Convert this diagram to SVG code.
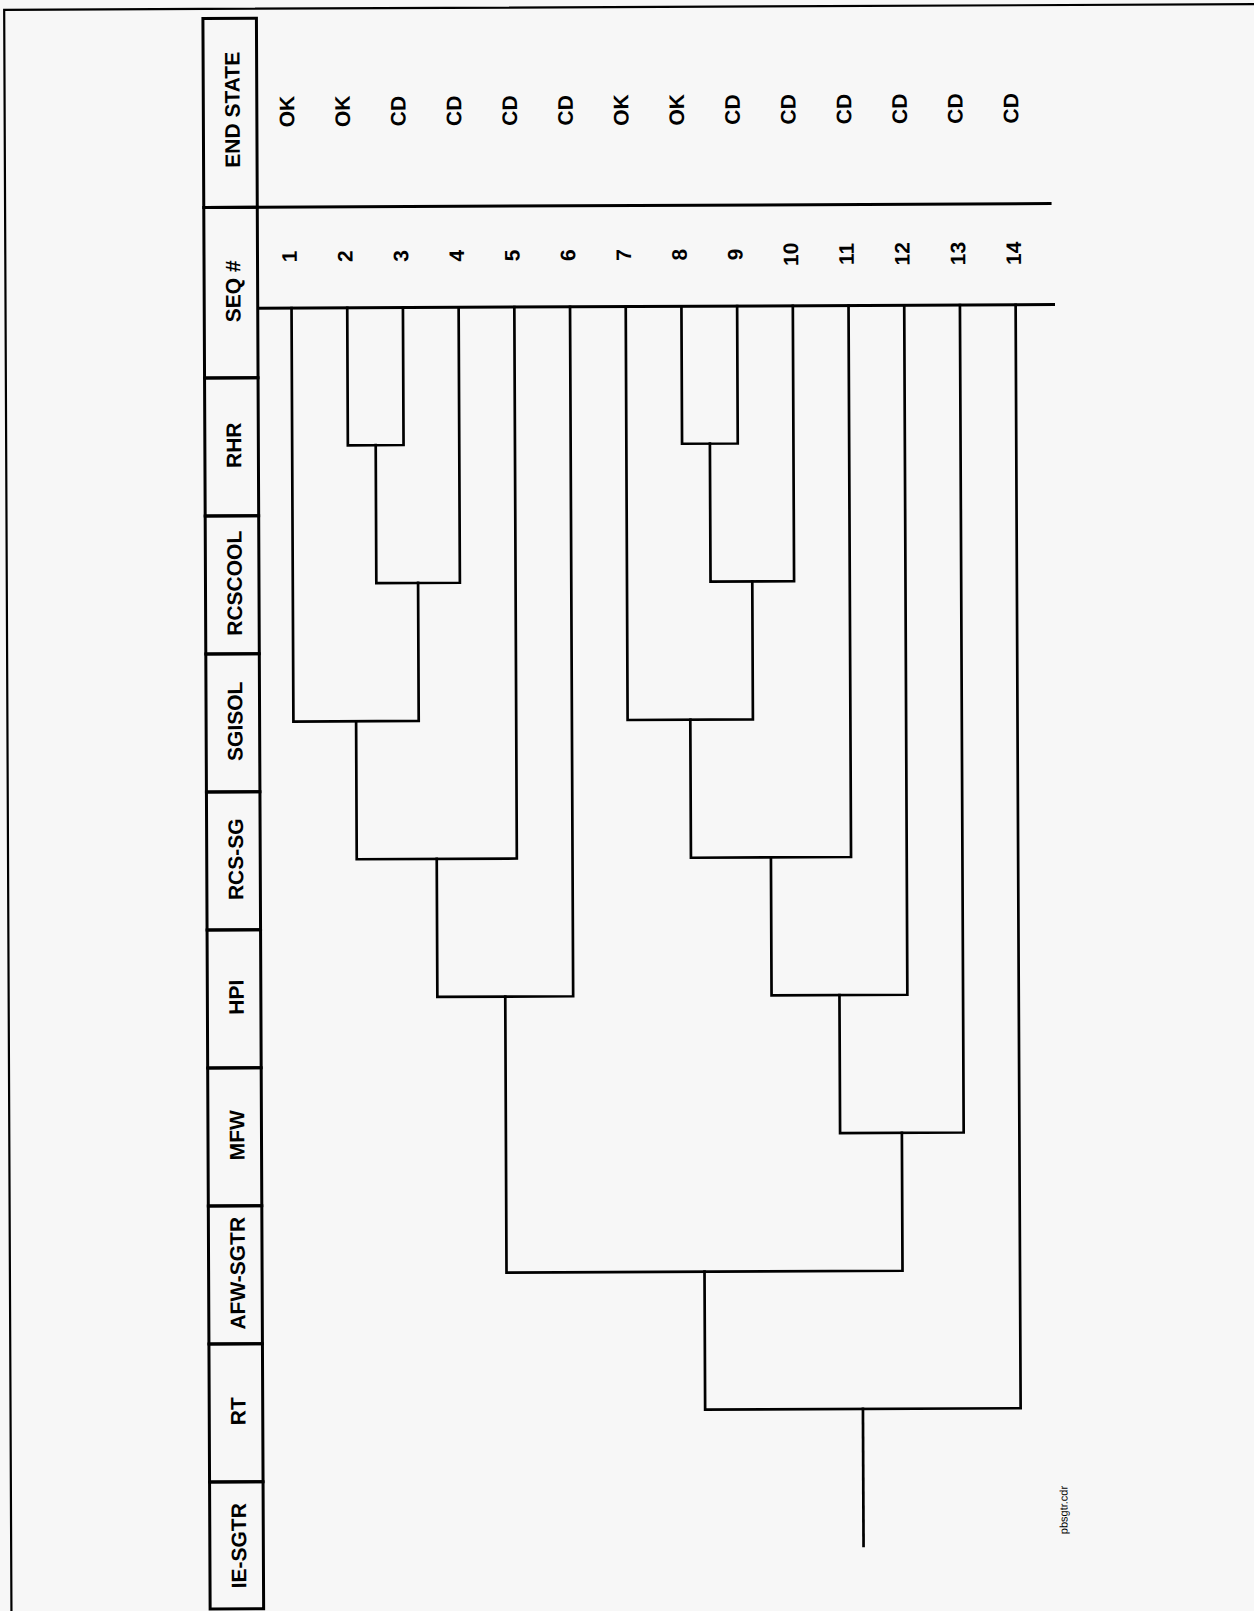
<svg xmlns="http://www.w3.org/2000/svg" width="1254" height="1611" viewBox="0 0 1254 1611">
<style>
.bg{fill:#f7f7f7}
.frame{fill:none;stroke:#000;stroke-width:2.2}
.box{fill:none;stroke:#000;stroke-width:3}
.rule{fill:none;stroke:#000;stroke-width:3}
.br{fill:none;stroke:#000;stroke-width:2.7;stroke-linejoin:miter;stroke-linecap:square}
text{font-family:"Liberation Sans",Arial,Helvetica,sans-serif;font-weight:bold;fill:#000;text-anchor:middle;dominant-baseline:central}
.h{font-size:21px}
.n{font-size:21px}
.s{font-size:21px}
.f{font-size:11px;font-weight:normal}
</style>
<rect class="bg" x="0" y="0" width="1254" height="1611"/>
<g transform="rotate(-0.26 630 300)">
<rect class="frame" x="5.5" y="7" width="1270" height="1630"/>

<g id="header">
<g id="h-endstate"><rect class="box" x="204.2" y="16.5" width="53.5" height="189"/><text class="h" transform="translate(233 108) rotate(-90)">END STATE</text></g>
<g id="h-seq"><rect class="box" x="204.2" y="205.5" width="53.5" height="170.5"/><text class="h" transform="translate(233 289.5) rotate(-90)">SEQ #</text></g>
<g id="h-rhr"><rect class="box" x="204.2" y="376" width="53.5" height="138"/><text class="h" transform="translate(233 443.5) rotate(-90)">RHR</text></g>
<g id="h-rcscool"><rect class="box" x="204.2" y="514" width="53.5" height="138"/><text class="h" transform="translate(233 581.5) rotate(-90)">RCSCOOL</text></g>
<g id="h-sgisol"><rect class="box" x="204.2" y="652" width="53.5" height="138"/><text class="h" transform="translate(233 719.5) rotate(-90)">SGISOL</text></g>
<g id="h-rcssg"><rect class="box" x="204.2" y="790" width="53.5" height="138"/><text class="h" transform="translate(233 857.5) rotate(-90)">RCS-SG</text></g>
<g id="h-hpi"><rect class="box" x="204.2" y="928" width="53.5" height="138"/><text class="h" transform="translate(233 995.5) rotate(-90)">HPI</text></g>
<g id="h-mfw"><rect class="box" x="204.2" y="1066" width="53.5" height="138"/><text class="h" transform="translate(233 1133.5) rotate(-90)">MFW</text></g>
<g id="h-afwsgtr"><rect class="box" x="204.2" y="1204" width="53.5" height="138"/><text class="h" transform="translate(233 1271.5) rotate(-90)">AFW-SGTR</text></g>
<g id="h-rt"><rect class="box" x="204.2" y="1342" width="53.5" height="138"/><text class="h" transform="translate(233 1409.5) rotate(-90)">RT</text></g>
<g id="h-iesgtr"><rect class="box" x="204.2" y="1480" width="53.5" height="127"/><text class="h" transform="translate(233 1544) rotate(-90)">IE-SGTR</text></g>
</g>

<g id="table-rules">
<path class="rule" d="M257.7,205.5 H1052"/>
<path class="rule" d="M257.7,306.5 H1055"/>
</g>

<g id="sequences">
<g id="seq1"><text class="n" transform="translate(289.5 255) rotate(-90)">1</text><text class="s" transform="translate(287.5 110) rotate(-90)">OK</text></g>
<g id="seq2"><text class="n" transform="translate(345.2 255) rotate(-90)">2</text><text class="s" transform="translate(343.2 110) rotate(-90)">OK</text></g>
<g id="seq3"><text class="n" transform="translate(400.9 255) rotate(-90)">3</text><text class="s" transform="translate(398.9 110) rotate(-90)">CD</text></g>
<g id="seq4"><text class="n" transform="translate(456.6 255) rotate(-90)">4</text><text class="s" transform="translate(454.6 110) rotate(-90)">CD</text></g>
<g id="seq5"><text class="n" transform="translate(512.3 255) rotate(-90)">5</text><text class="s" transform="translate(510.3 110) rotate(-90)">CD</text></g>
<g id="seq6"><text class="n" transform="translate(568 255) rotate(-90)">6</text><text class="s" transform="translate(566 110) rotate(-90)">CD</text></g>
<g id="seq7"><text class="n" transform="translate(623.7 255) rotate(-90)">7</text><text class="s" transform="translate(621.7 110) rotate(-90)">OK</text></g>
<g id="seq8"><text class="n" transform="translate(679.4 255) rotate(-90)">8</text><text class="s" transform="translate(677.4 110) rotate(-90)">OK</text></g>
<g id="seq9"><text class="n" transform="translate(735.1 255) rotate(-90)">9</text><text class="s" transform="translate(733.1 110) rotate(-90)">CD</text></g>
<g id="seq10"><text class="n" transform="translate(790.8 255) rotate(-90)">10</text><text class="s" transform="translate(788.8 110) rotate(-90)">CD</text></g>
<g id="seq11"><text class="n" transform="translate(846.5 255) rotate(-90)">11</text><text class="s" transform="translate(844.5 110) rotate(-90)">CD</text></g>
<g id="seq12"><text class="n" transform="translate(902.2 255) rotate(-90)">12</text><text class="s" transform="translate(900.2 110) rotate(-90)">CD</text></g>
<g id="seq13"><text class="n" transform="translate(957.9 255) rotate(-90)">13</text><text class="s" transform="translate(955.9 110) rotate(-90)">CD</text></g>
<g id="seq14"><text class="n" transform="translate(1013.6 255) rotate(-90)">14</text><text class="s" transform="translate(1011.6 110) rotate(-90)">CD</text></g>
</g>

<g id="connectors">
<path class="br" d="M347.2,306.5 V444 H402.9 V306.5"/>
<path class="br" d="M375.05,444 V582 H458.6 V306.5"/>
<path class="br" d="M291.5,306.5 V720 H416.8 V582"/>
<path class="br" d="M354.2,720 V858 H514.3 V306.5"/>
<path class="br" d="M434.2,858 V996 H570 V306.5"/>
<path class="br" d="M681.4,306.5 V444 H737.1 V306.5"/>
<path class="br" d="M709.25,444 V582 H792.8 V306.5"/>
<path class="br" d="M625.7,306.5 V720 H751 V582"/>
<path class="br" d="M688.4,720 V858 H848.5 V306.5"/>
<path class="br" d="M768.4,858 V996 H904.2 V306.5"/>
<path class="br" d="M836.3,996 V1134 H959.9 V306.5"/>
<path class="br" d="M502.1,996 V1272 H898.1 V1134"/>
<path class="br" d="M700.1,1272 V1410 H1015.6 V306.5"/>
<path class="br" d="M857.9,1410 V1547"/>
</g>

<text class="f" transform="translate(1058 1512) rotate(-90)">pbsgtr.cdr</text>
</g>
</svg>
